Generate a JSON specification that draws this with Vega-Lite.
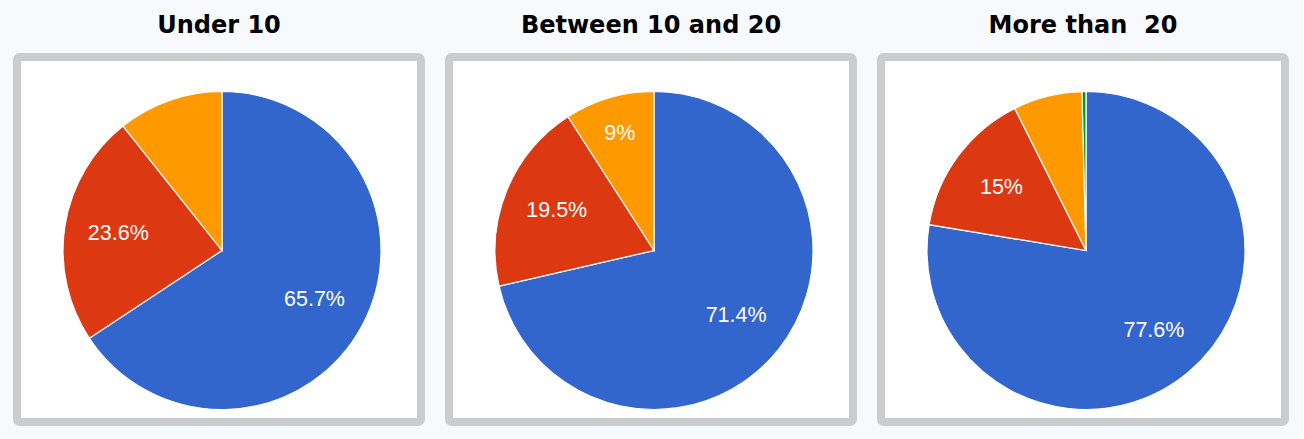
{
  "$schema": "https://vega.github.io/schema/vega-lite/v6.json",
  "background": "#f8f9fc",
  "padding": {"left": 13, "top": 14, "right": 14, "bottom": 12},
  "data": {
    "values": [
      {"group": "Under 10", "category": "A", "idx": 1, "value": 65.7, "label": "65.7%"},
      {"group": "Under 10", "category": "B", "idx": 2, "value": 23.6, "label": "23.6%"},
      {"group": "Under 10", "category": "C", "idx": 3, "value": 10.7, "label": ""},
      {"group": "Between 10 and 20", "category": "A", "idx": 1, "value": 71.4, "label": "71.4%"},
      {"group": "Between 10 and 20", "category": "B", "idx": 2, "value": 19.5, "label": "19.5%"},
      {"group": "Between 10 and 20", "category": "C", "idx": 3, "value": 9.1, "label": "9%"},
      {"group": "More than  20", "category": "A", "idx": 1, "value": 77.6, "label": "77.6%"},
      {"group": "More than  20", "category": "B", "idx": 2, "value": 15.0, "label": "15%"},
      {"group": "More than  20", "category": "C", "idx": 3, "value": 7.0, "label": ""},
      {"group": "More than  20", "category": "D", "idx": 4, "value": 0.4, "label": ""}
    ]
  },
  "facet": {
    "column": {
      "field": "group",
      "type": "nominal",
      "sort": ["Under 10", "Between 10 and 20", "More than  20"],
      "header": {
        "title": null,
        "labelFontSize": 24,
        "labelFont": "DejaVu Sans",
        "labelFontWeight": "bold",
        "labelColor": "black",
        "labelPadding": 15,
        "labelExpr": "replace(datum.value, '  ', ' \u00a0')"
      }
    }
  },
  "spacing": 20,
  "spec": {
    "width": 404,
    "height": 365,
    "view": {"stroke": "#cccccc", "strokeWidth": 8, "fill": "white", "cornerRadius": 3},
    "layer": [
      {
        "mark": {"type": "arc", "outerRadius": 159, "stroke": "white", "strokeWidth": 1.2, "xOffset": 3, "yOffset": 11},
        "encoding": {
          "theta": {"field": "value", "type": "quantitative", "stack": "normalize"},
          "color": {
            "field": "category",
            "type": "nominal",
            "scale": {"domain": ["A", "B", "C", "D"], "range": ["#3366cc", "#dc3912", "#ff9900", "#109618"]},
            "legend": null
          },
          "order": {"field": "idx", "type": "quantitative"}
        }
      },
      {
        "mark": {"type": "text", "radius": {"expr": "datum.value < 10 ? 121 : 105"}, "fill": "white", "fontSize": 21.5, "font": "Liberation Sans", "xOffset": 3, "yOffset": 11},
        "encoding": {
          "theta": {"field": "value", "type": "quantitative", "stack": "normalize"},
          "text": {"field": "label"},
          "order": {"field": "idx", "type": "quantitative"}
        }
      }
    ]
  }
}
